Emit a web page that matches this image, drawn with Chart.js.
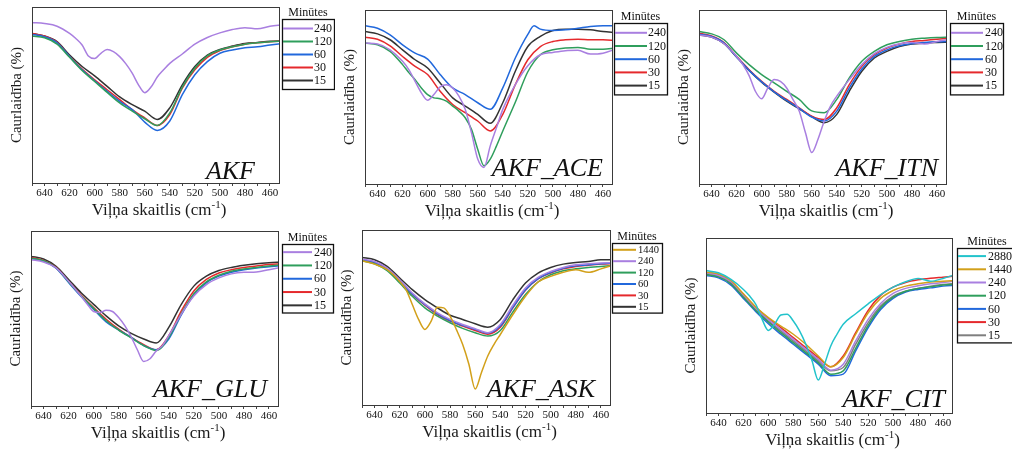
<!DOCTYPE html>
<html>
<head>
<meta charset="utf-8">
<script src="https://cdn.jsdelivr.net/npm/chart.js@4.4.1/dist/chart.umd.min.js"></script>
<style>
  body { margin: 0; background: #fff; width: 1012px; height: 451px; overflow: hidden; position: relative; }
  .panel { position: absolute; }
</style>
</head>
<body>
<div class="panel" style="left:0px;top:0px;width:335px;height:225px"><canvas id="p1"></canvas></div>
<div class="panel" style="left:335px;top:0px;width:335px;height:225px"><canvas id="p2"></canvas></div>
<div class="panel" style="left:670px;top:0px;width:342px;height:225px"><canvas id="p3"></canvas></div>
<div class="panel" style="left:0px;top:225px;width:335px;height:226px"><canvas id="p4"></canvas></div>
<div class="panel" style="left:335px;top:225px;width:335px;height:226px"><canvas id="p5"></canvas></div>
<div class="panel" style="left:670px;top:225px;width:342px;height:226px"><canvas id="p6"></canvas></div>
<script>
// wavenumber grids (cm-1)
const WN = [650, 640, 630, 620, 610, 600, 590, 580, 570, 560, 550, 540, 530, 520, 510, 500, 490, 480, 470, 460, 450];
const WN_FINE = [650, 640, 630, 620, 615, 610, 605, 600, 595, 590, 585, 580, 575, 570, 565, 560, 555, 550, 545, 540, 530, 520, 510, 500, 490, 480, 470, 460, 450];
const WN_ACE60 = [650, 640, 630, 620, 610, 600, 590, 580, 570, 560, 550, 540, 530, 520, 515, 510, 500, 490, 480, 470, 460, 450];
const X_TICKS = [650, 640, 630, 620, 610, 600, 590, 580, 570, 560, 550, 540, 530, 520, 510, 500, 490, 480, 470, 460];

// transmittance, % of the plot height (no scale is printed on the figure)
// AKF
const AKF_240 = [91.2, 90.6, 89.1, 85.0, 82.1, 78.4, 72.2, 70.7, 73.7, 75.9, 74.6, 71.8, 67.7, 62.4, 55.8, 51.3, 54.5, 60.2, 64.3, 68.0, 73.3, 78.9, 82.7, 85.3, 87.2, 88.2, 87.6, 89.1, 89.8];
const AKF_120 = [83.5, 82.5, 78.9, 71.4, 63.9, 57.7, 51.5, 45.5, 40.8, 36.5, 32.7, 39.8, 54.5, 65.2, 72.2, 75.6, 77.4, 78.9, 79.7, 80.3, 80.6];
const AKF_60 = [84.4, 83.1, 79.7, 71.8, 64.3, 58.1, 52.1, 46.4, 41.7, 34.6, 29.9, 35.2, 50.2, 61.5, 69.0, 73.7, 75.6, 76.9, 77.4, 78.4, 79.3];
const AKF_30 = [85.0, 83.5, 79.9, 71.8, 64.7, 58.6, 53.0, 47.4, 41.7, 37.0, 32.7, 38.9, 53.9, 64.3, 71.4, 75.2, 77.4, 78.9, 79.7, 80.3, 80.6];
const AKF_15 = [85.0, 83.5, 80.3, 72.7, 66.2, 60.9, 54.9, 48.9, 44.5, 40.8, 36.1, 42.7, 55.8, 66.2, 72.7, 75.9, 77.8, 79.3, 79.9, 80.5, 80.8];
// AKF_ACE
const ACE_240 = [81.0, 80.4, 77.1, 70.5, 65.7, 59.0, 52.4, 48.2, 51.4, 55.8, 57.0, 55.2, 50.5, 42.9, 29.5, 14.3, 9.5, 21.9, 32.4, 42.9, 57.1, 68.0, 74.3, 75.6, 76.6, 76.8, 74.7, 75.2, 77.5];
const ACE_120 = [81.0, 80.0, 76.2, 68.6, 64.0, 60.0, 55.2, 51.4, 49.5, 49.0, 47.6, 44.8, 41.9, 38.1, 31.4, 20.0, 10.5, 14.3, 21.9, 30.5, 47.0, 64.5, 74.3, 77.1, 78.1, 78.5, 77.5, 77.5, 78.1];
const ACE_60 = [90.9, 89.5, 85.7, 80.0, 75.2, 71.8, 62.9, 55.2, 51.4, 46.7, 42.9, 55.2, 72.4, 86.0, 90.9, 89.0, 88.2, 88.6, 89.5, 90.5, 90.9, 90.9];
const ACE_30 = [84.4, 83.2, 79.4, 73.3, 67.6, 62.9, 53.3, 45.7, 41.0, 36.2, 30.5, 40.0, 57.1, 71.4, 79.0, 81.9, 82.9, 83.2, 82.9, 82.9, 82.5];
const ACE_15 = [87.6, 86.3, 82.9, 77.1, 71.4, 66.7, 58.1, 49.5, 44.8, 40.0, 34.9, 46.7, 64.8, 79.0, 84.8, 88.2, 89.0, 89.0, 88.6, 87.6, 87.0];
// AKF_ITN
const ITN_240 = [85.7, 84.4, 80.6, 73.3, 68.6, 62.3, 53.3, 49.0, 55.2, 60.0, 59.0, 55.2, 48.6, 41.9, 29.5, 18.1, 25.7, 36.2, 44.8, 50.5, 60.0, 68.6, 74.9, 78.5, 80.6, 81.3, 80.4, 81.9, 83.2];
const ITN_120 = [87.6, 86.3, 82.9, 75.2, 68.6, 62.9, 58.1, 53.3, 48.6, 42.0, 41.0, 48.6, 61.0, 70.5, 76.2, 80.0, 81.9, 83.2, 83.8, 84.2, 84.4];
const ITN_60 = [86.1, 84.8, 81.0, 73.0, 65.3, 58.7, 53.0, 48.0, 43.4, 38.5, 36.2, 41.9, 55.2, 66.1, 73.3, 77.1, 79.4, 80.6, 81.3, 81.7, 81.9];
const ITN_30 = [86.7, 85.1, 81.3, 73.3, 65.7, 59.0, 53.3, 48.6, 43.8, 39.0, 37.1, 43.8, 57.1, 67.6, 74.3, 78.1, 80.4, 81.9, 82.5, 83.2, 83.8];
const ITN_15 = [85.7, 84.4, 80.6, 73.0, 65.3, 58.5, 52.8, 47.6, 43.2, 38.7, 35.2, 40.0, 53.3, 64.8, 72.4, 76.2, 79.0, 80.4, 81.0, 81.3, 81.5];
// AKF_GLU
const GLU_240 = [83.6, 82.3, 78.9, 71.3, 67.2, 62.8, 58.1, 54.0, 53.4, 54.7, 54.0, 50.6, 45.8, 39.5, 32.0, 25.4, 27.0, 31.5, 34.5, 40.2, 52.5, 62.8, 69.4, 73.2, 75.5, 76.4, 76.6, 77.9, 79.2];
const GLU_120 = [84.5, 83.0, 79.0, 71.0, 63.0, 55.8, 48.7, 43.4, 38.9, 34.5, 31.7, 39.2, 52.8, 64.2, 70.9, 74.7, 77.0, 78.3, 79.2, 80.0, 80.6];
const GLU_60 = [84.3, 82.8, 78.7, 70.6, 62.6, 55.3, 48.1, 43.4, 39.2, 34.5, 32.1, 38.3, 52.1, 63.4, 70.4, 74.2, 76.4, 77.9, 78.9, 79.6, 80.2];
const GLU_30 = [84.9, 83.2, 79.2, 71.3, 63.4, 56.2, 49.6, 44.0, 39.2, 35.1, 32.1, 40.2, 54.3, 65.7, 72.3, 76.0, 77.9, 79.2, 80.0, 80.8, 81.3];
const GLU_15 = [85.5, 84.0, 79.8, 72.3, 64.7, 58.1, 51.5, 45.8, 41.5, 38.3, 36.0, 44.9, 58.1, 68.5, 74.2, 77.4, 79.2, 80.4, 81.3, 81.9, 82.3];
// AKF_ASK
const ASK_1440 = [82.4, 80.5, 77.3, 70.6, 65.9, 57.4, 48.9, 43.2, 47.9, 55.9, 55.5, 50.8, 43.2, 34.7, 23.3, 9.1, 18.6, 28.0, 34.7, 40.3, 51.7, 62.1, 70.3, 73.5, 75.8, 77.3, 75.8, 77.8, 80.1];
const ASK_240 = [83.3, 82.0, 78.2, 71.6, 64.0, 57.8, 52.7, 48.9, 46.0, 43.6, 41.3, 46.0, 57.0, 66.9, 72.9, 76.3, 78.6, 80.1, 80.7, 81.1, 81.4];
const ASK_120 = [82.4, 80.7, 76.7, 69.7, 62.1, 55.5, 50.8, 47.0, 43.8, 41.3, 39.4, 42.6, 53.2, 63.1, 70.3, 74.4, 76.7, 77.8, 78.6, 79.2, 79.7];
const ASK_60 = [83.0, 81.6, 77.8, 71.0, 63.4, 57.4, 52.1, 48.3, 45.5, 43.2, 41.1, 45.1, 55.9, 65.9, 72.2, 75.8, 78.2, 79.5, 80.1, 80.7, 81.1];
const ASK_30 = [82.8, 81.4, 77.7, 70.6, 63.1, 57.0, 51.7, 47.9, 45.1, 42.6, 40.5, 44.5, 55.5, 65.5, 72.0, 75.4, 77.8, 79.2, 79.9, 80.5, 80.9];
const ASK_15 = [84.3, 83.0, 79.2, 72.5, 65.9, 60.2, 55.5, 51.3, 48.9, 46.4, 44.5, 48.9, 60.2, 69.7, 75.4, 78.6, 80.5, 81.4, 82.0, 83.0, 83.0];
// AKF_CIT
const CIT_2880 = [81.4, 80.1, 76.3, 70.6, 66.8, 62.0, 53.5, 47.2, 50.8, 56.0, 56.4, 52.6, 46.9, 39.3, 29.8, 18.8, 27.9, 38.3, 45.0, 50.7, 56.7, 62.4, 67.7, 71.9, 75.0, 76.9, 75.3, 76.9, 79.1];
const CIT_1440 = [80.6, 79.5, 75.7, 68.1, 60.5, 54.5, 49.7, 45.0, 39.3, 32.6, 26.4, 31.7, 45.0, 57.3, 65.5, 70.0, 72.5, 73.8, 74.8, 75.3, 75.7];
const CIT_240 = [80.1, 78.7, 75.0, 67.4, 59.8, 53.5, 47.8, 42.1, 36.4, 30.7, 24.5, 27.9, 41.2, 53.5, 62.6, 68.3, 71.2, 72.7, 73.8, 74.6, 75.3];
const CIT_120 = [79.1, 77.8, 73.8, 66.2, 58.6, 52.0, 45.9, 40.2, 34.5, 28.8, 22.2, 24.1, 37.0, 50.1, 60.2, 66.2, 69.6, 71.2, 72.1, 73.1, 73.6];
const CIT_60 = [78.6, 77.2, 73.1, 65.5, 57.9, 51.0, 45.0, 39.3, 33.6, 27.9, 21.3, 22.2, 35.5, 48.8, 59.2, 65.5, 69.1, 70.6, 71.5, 72.5, 72.9];
const CIT_30 = [80.1, 79.1, 75.0, 67.7, 60.2, 54.1, 48.8, 43.1, 37.4, 31.7, 26.4, 32.6, 45.9, 58.6, 67.2, 71.9, 74.6, 76.1, 77.0, 77.6, 78.2];
const CIT_15 = [79.5, 78.2, 74.4, 66.8, 59.2, 52.6, 46.9, 41.2, 35.5, 29.8, 24.1, 26.0, 39.3, 51.6, 61.1, 66.8, 69.6, 71.2, 72.5, 73.4, 74.0];

const COLOURS = {
    '2880': '#22c3cb',
    '1440': '#d2a01a',
    '240': '#a97fe0',
    '120': '#2f9e5c',
    '60': '#2168dc',
    '30': '#e5292c',
    '15': '#333333'
};

const SERIF = '"Liberation Serif", "Times New Roman", serif';
const TICK_LEN = 3;
const TICK_PAD = 1;
const TICK_FONT = 11;

// box = container [left, top, width, height]; area = wanted plot [left, top, right, bottom]
const PANELS = [
    { id: 'p1', name: 'AKF', box: [0, 0, 335, 225], area: [32, 7, 280, 184], label: [25, 4],
      legend: { dx: 2, dy: 12, w: 52, pad: 2.5, row: 13, line: 30, text: 32, font: 12 },
      series: [['240', WN_FINE, AKF_240], ['120', WN, AKF_120], ['60', WN, AKF_60], ['30', WN, AKF_30], ['15', WN, AKF_15]] },
    { id: 'p2', name: 'AKF_ACE', box: [335, 0, 335, 225], area: [365, 10, 613, 185], label: [10, 8],
      legend: { dx: 1, dy: 13, w: 53, pad: 2.7, row: 13.2, line: 32, text: 34, font: 12 },
      series: [['240', WN_FINE, ACE_240], ['120', WN_FINE, ACE_120], ['60', WN_ACE60, ACE_60], ['30', WN, ACE_30], ['15', WN, ACE_15]] },
    { id: 'p3', name: 'AKF_ITN', box: [670, 0, 342, 225], area: [699, 10, 947, 185], label: [9, 8],
      legend: { dx: 3, dy: 13, w: 53, pad: 2.7, row: 13.2, line: 32, text: 35, font: 12 },
      series: [['240', WN_FINE, ITN_240], ['120', WN, ITN_120], ['60', WN, ITN_60], ['30', WN, ITN_30], ['15', WN, ITN_15]] },
    { id: 'p4', name: 'AKF_GLU', box: [0, 225, 335, 226], area: [31, 231, 279, 407], label: [12, 9],
      legend: { dx: 3, dy: 13, w: 51, pad: 1, row: 13.3, line: 29, text: 32, font: 12 },
      series: [['240', WN_FINE, GLU_240], ['120', WN, GLU_120], ['60', WN, GLU_60], ['30', WN, GLU_30], ['15', WN, GLU_15]] },
    { id: 'p5', name: 'AKF_ASK', box: [335, 225, 335, 226], area: [362, 230, 611, 406], label: [16, 8],
      legend: { dx: 1, dy: 13, w: 50, pad: 0.6, row: 11.4, line: 23, text: 26, font: 10.5 },
      series: [['1440', WN_FINE, ASK_1440], ['240', WN, ASK_240], ['120', WN, ASK_120], ['60', WN, ASK_60], ['30', WN, ASK_30], ['15', WN, ASK_15]] },
    { id: 'p6', name: 'AKF_CIT', box: [670, 225, 342, 226], area: [706, 238, 953, 414], label: [8, 6],
      legend: { dx: 4, dy: 10, w: 60, pad: 1, row: 13.2, line: 28, text: 31, font: 12 },
      series: [['2880', WN_FINE, CIT_2880], ['1440', WN, CIT_1440], ['240', WN, CIT_240], ['120', WN, CIT_120], ['60', WN, CIT_60], ['30', WN, CIT_30], ['15', WN, CIT_15]],
      grey15: true }
];

// frame, axis titles, panel name and the "Minūtes" legend box
const decorPlugin = {
    id: 'decor',
    afterDraw(chart, args, opts) {
        const { ctx, chartArea: a } = chart;
        ctx.save();
        ctx.strokeStyle = '#3a3a3a';
        ctx.lineWidth = 1;
        ctx.strokeRect(a.left + 0.5, a.top + 0.5, a.right - a.left - 1, a.bottom - a.top);

        ctx.fillStyle = '#1a1a1a';
        // y title
        ctx.save();
        ctx.translate(a.left - 15, (a.top + a.bottom) / 2);
        ctx.rotate(-Math.PI / 2);
        ctx.font = '15px ' + SERIF;
        ctx.textAlign = 'center';
        ctx.textBaseline = 'middle';
        ctx.fillText('Caurlaidība (%)', 0, 0);
        ctx.restore();

        // x title with superscript
        const main = 'Viļņa skaitlis (cm', sup = '-1', close = ')';
        ctx.textBaseline = 'alphabetic';
        ctx.textAlign = 'left';
        ctx.font = '17px ' + SERIF;
        const wMain = ctx.measureText(main).width, wClose = ctx.measureText(close).width;
        ctx.font = '11px ' + SERIF;
        const wSup = ctx.measureText(sup).width;
        let x = (a.left + a.right) / 2 + 3 - (wMain + wSup + wClose) / 2;
        const yBase = a.bottom + 32;
        ctx.font = '17px ' + SERIF;
        ctx.fillText(main, x, yBase);
        x += wMain;
        ctx.font = '11px ' + SERIF;
        ctx.fillText(sup, x, yBase - 7);
        x += wSup;
        ctx.font = '17px ' + SERIF;
        ctx.fillText(close, x, yBase);

        // panel name
        ctx.font = 'italic 26px ' + SERIF;
        ctx.textAlign = 'right';
        ctx.fillStyle = '#111';
        ctx.fillText(opts.name, a.right - opts.label[0], a.bottom - opts.label[1]);

        // legend
        const lg = opts.legend;
        const sets = chart.data.datasets;
        const bx = a.right + lg.dx, by = a.top + lg.dy;
        const bh = lg.pad * 2 + lg.row * sets.length;
        ctx.font = '12px ' + SERIF;
        ctx.textAlign = 'center';
        ctx.fillStyle = '#111';
        ctx.fillText('Minūtes', bx + lg.w / 2, by - 3);
        ctx.lineWidth = 1.3;
        ctx.strokeStyle = '#111';
        ctx.strokeRect(bx + 0.5, by + 0.5, lg.w, bh);
        ctx.textAlign = 'left';
        ctx.textBaseline = 'middle';
        ctx.font = lg.font + 'px ' + SERIF;
        sets.forEach((ds, i) => {
            const yy = by + lg.pad + lg.row * (i + 0.5) + 0.5;
            ctx.strokeStyle = ds.borderColor;
            ctx.lineWidth = 2;
            ctx.beginPath();
            ctx.moveTo(bx + 1, yy);
            ctx.lineTo(bx + 1 + lg.line, yy);
            ctx.stroke();
            ctx.fillStyle = '#111';
            ctx.fillText(ds.label, bx + lg.text, yy + 0.5);
        });
        ctx.restore();
    }
};

function makePanel(p) {
    const axisH = TICK_LEN + TICK_PAD + TICK_FONT * 1.2;
    const [bl, bt, bw, bh] = p.box;
    const [al, at, ar, ab] = p.area;

    const datasets = p.series.map(([label, xs, ys]) => ({
        label: label,
        data: xs.map((w, i) => ({ x: w, y: ys[i] })),
        borderColor: (p.grey15 && label === '15') ? '#7f7f7f' : COLOURS[label],
        borderWidth: 1.5,
        pointRadius: 0,
        fill: false,
        cubicInterpolationMode: 'monotone'
    }));

    new Chart(document.getElementById(p.id).getContext('2d'), {
        type: 'line',
        data: { datasets: datasets },
        options: {
            animation: false,
            responsive: true,
            maintainAspectRatio: false,
            layout: {
                padding: { left: al - bl, top: at - bt, right: bl + bw - ar, bottom: bt + bh - ab - axisH }
            },
            scales: {
                x: {
                    type: 'linear',
                    reverse: true,
                    min: 452,
                    max: 650,
                    afterBuildTicks: scale => { scale.ticks = X_TICKS.map(v => ({ value: v })); },
                    ticks: {
                        autoSkip: false,
                        maxRotation: 0,
                        padding: TICK_PAD,
                        color: '#111',
                        font: { family: SERIF, size: TICK_FONT },
                        callback: v => (v % 20 === 0 ? String(v) : '')
                    },
                    grid: {
                        drawOnChartArea: false,
                        tickLength: TICK_LEN,
                        tickColor: '#444'
                    },
                    border: { display: false }
                },
                y: {
                    display: false,
                    min: 0,
                    max: 100
                }
            },
            plugins: {
                legend: { display: false },
                tooltip: { enabled: false },
                decor: { name: p.name, label: p.label, legend: p.legend }
            }
        },
        plugins: [decorPlugin]
    });
}

PANELS.forEach(makePanel);
</script>
</body>
</html>
